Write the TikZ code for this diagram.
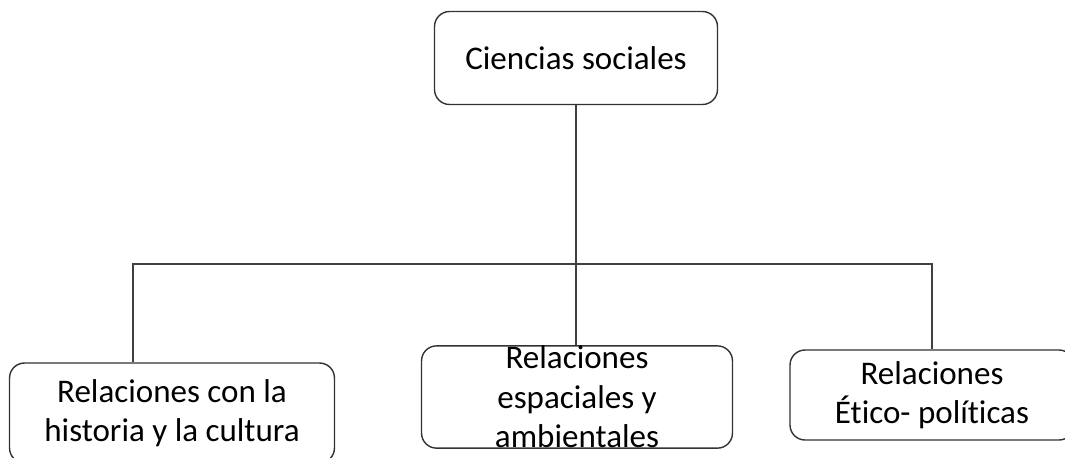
\documentclass[tikz,border=0pt]{standalone}
\usepackage{fontspec}
\setmainfont{Carlito}[Ligatures=NoCommon]
\begin{document}
\begin{tikzpicture}[
        x=0.02cm, y=-0.02cm,
        box/.style={draw=black!80, line width=0.8pt, rounded corners=0.3cm, align=center,
            font=\fontsize{18.8}{22.5}\selectfont},
        link/.style={draw=black!75, line width=0.8pt}
    ]
        \useasboundingbox (0,0) rectangle (1065,457);

        % Top
        \node[box, minimum width=5.66cm, minimum height=1.86cm] (social) at (576,58) {Ciencias sociales};

        % Branches
        \node[box, minimum width=6.5cm, minimum height=2cm] (historia) at (172,413) {Relaciones con la\\historia y la cultura};
        \node[box, minimum width=6.22cm, inner ysep=0pt] (espacio) at (577,397) {Relaciones\\espaciales y\\ambientales};
        \node[box, minimum width=5.68cm, minimum height=1.8cm] (etica) at (932,395) {Relaciones\\Ético- políticas};

        % Connectors
        \coordinate (busL) at (133,264);
        \coordinate (busR) at (932,264);
        \draw[link] (social.south) -- (social.south |- espacio.north);
        \draw[link] (historia.north -| busL) -- (busL) -- (busR) -- (etica.north);
    \end{tikzpicture}
\end{document}
